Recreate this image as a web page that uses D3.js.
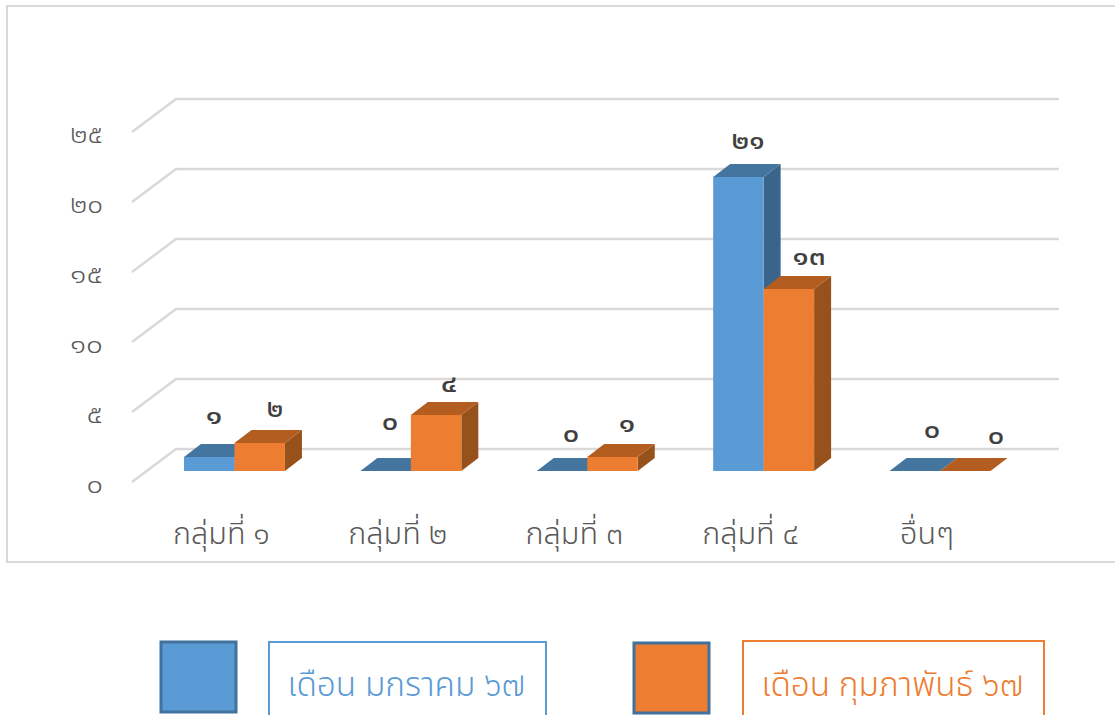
<!DOCTYPE html>
<html><head><meta charset="utf-8">
<script src="https://cdn.jsdelivr.net/npm/d3@7/dist/d3.min.js"></script>
<style>html,body{margin:0;padding:0;background:#fff;overflow:hidden}svg{display:block}text{font-family:"Noto Sans Thai","Noto Sans","Open Sans","DejaVu Sans",sans-serif}</style>
</head><body><svg id="c" width="1115" height="715"></svg>
<script>
const categories=["กลุ่มที่ ๑","กลุ่มที่ ๒","กลุ่มที่ ๓","กลุ่มที่ ๔","อื่นๆ"];
const seriesNames=["เดือน มกราคม ๖๗","เดือน กุมภาพันธ์ ๖๗"];
const janValues=[1,0,0,21,0];
const febValues=[2,4,1,13,0];
const yTicks=[0,5,10,15,20,25];
const thai=n=>String(n).replace(/\d/g,d=>"๐๑๒๓๔๕๖๗๘๙"[+d]);

const svg=d3.select("#c");
const x=d3.scaleBand().domain(categories).range([184,990.5]).paddingInner(75.5/176.5);
const y=d3.scaleLinear().domain([0,25]).range([471,121]);
const inner=d3.scaleBand().domain([0,1]).range([0,x.bandwidth()]);
const dx=17,dy=-13;
const wallDx=44,wallDy=-33,wallX0=132,wallX1=1059;
const styles=[{front:"#5b9bd5",top:"#44759f",side:"#3a6489"},{front:"#ed7d31",top:"#b35d20",side:"#97511b"}];
const digitWidth=16.5;

svg.append("rect").attr("x",7).attr("y",6).attr("width",1120).attr("height",556)
  .attr("fill","#fff").attr("stroke","#d9d9d9").attr("stroke-width",2);

yTicks.forEach(v=>{
  const y0=y(v)+11;
  svg.append("path").attr("fill","none").attr("stroke","#d9d9d9").attr("stroke-width",2.4)
    .attr("d",d3.line()([[wallX0,y0],[wallX0+wallDx,y0+wallDy],[wallX1,y0+wallDy]]));
  const s=thai(v);
  svg.append("text").attr("x",103).attr("y",y0+10.5).attr("text-anchor","end")
    .attr("font-size",24).attr("font-weight",300).attr("fill","#595959")
    .attr("textLength",digitWidth*s.length).attr("lengthAdjust","spacingAndGlyphs").text(s);
});

const vals=[janValues,febValues];
const face=(pts,fill)=>svg.append("path").attr("d",d3.line()(pts)+"Z").attr("fill",fill);
categories.forEach((c,i)=>{
  [0,1].forEach(s=>{
    const st=styles[s],v=vals[s][i];
    const a=x(c)+inner(s),b=a+inner.bandwidth(),t=y(v),z=y(0);
    if(v>0) face([[b,t],[b+dx,t+dy],[b+dx,z+dy],[b,z]],st.side);
    face([[a,t],[a+dx,t+dy],[b+dx,t+dy],[b,t]],st.top);
    if(v>0) face([[a,t],[b,t],[b,z],[a,z]],st.front);
  });
  svg.append("text").attr("x",x(c)+x.bandwidth()/2-13).attr("y",544).attr("text-anchor","middle")
    .attr("font-size",30.5).attr("font-weight",300).attr("fill","#595959").text(c);
});

const labelPos=[[[214,424],[275,417]],[[390,430],[449,392]],[[571,442],[627,432]],[[748,149],[809,265]],[[932,438],[996,444]]];
categories.forEach((c,i)=>[0,1].forEach(s=>{
  const t=thai(vals[s][i]);
  svg.append("text").attr("x",labelPos[i][s][0]).attr("y",labelPos[i][s][1]).attr("text-anchor","middle")
    .attr("font-size",24).attr("font-weight",500).attr("fill","#404040")
    .attr("textLength",digitWidth*t.length).attr("lengthAdjust","spacingAndGlyphs").text(t);
}));

const legend=[{sx:161,sy:642,bx:269,by:642,bw:277,c:"#5b9bd5"},{sx:634,sy:643,bx:743,by:641,bw:301,c:"#ed7d31"}];
legend.forEach((l,i)=>{
  svg.append("rect").attr("x",l.sx).attr("y",l.sy).attr("width",75).attr("height",70).attr("fill",l.c).attr("stroke","#41719c").attr("stroke-width",3);
  svg.append("rect").attr("x",l.bx).attr("y",l.by).attr("width",l.bw).attr("height",90).attr("fill","#fff").attr("stroke",l.c).attr("stroke-width",2);
  svg.append("text").attr("x",l.bx+l.bw/2-1).attr("y",696).attr("text-anchor","middle").attr("font-size",33.4).attr("font-weight",300).attr("fill",l.c).text(seriesNames[i]);
});
</script></body></html>
